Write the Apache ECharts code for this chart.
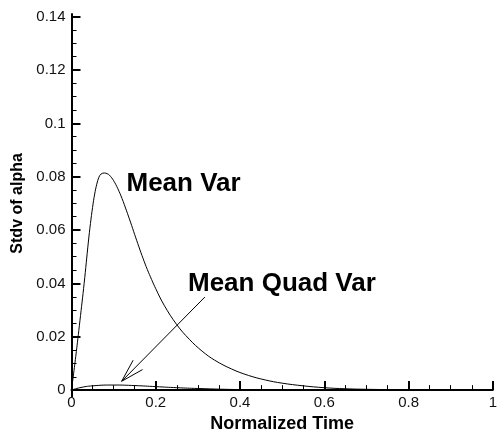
<!DOCTYPE html>
<html>
<head>
<meta charset="utf-8">
<script src="https://cdn.jsdelivr.net/npm/echarts@6/dist/echarts.min.js"></script>
<style>html,body{margin:0;padding:0;background:#fff}#c{width:500px;height:438px}</style>
</head>
<body>
<div id="c"></div>
<script>
// ---- data ----
const meanVarX = [0, 0.01, 0.02, 0.03, 0.04, 0.045, 0.05, 0.055, 0.06, 0.065, 0.07, 0.078, 0.085, 0.09, 0.10, 0.11, 0.12, 0.13, 0.14, 0.15, 0.16, 0.17, 0.18, 0.19, 0.20, 0.22, 0.25, 0.28, 0.31, 0.34, 0.38, 0.42, 0.46, 0.50, 0.55, 0.60, 0.65, 0.70, 0.80, 0.90, 1.0];
const meanVarY = [0, 0.0125, 0.026, 0.040, 0.0555, 0.0625, 0.0685, 0.0735, 0.0772, 0.0798, 0.0810, 0.0814, 0.0811, 0.0806, 0.0785, 0.0755, 0.0718, 0.0675, 0.0630, 0.0583, 0.0537, 0.0493, 0.0452, 0.0415, 0.0380, 0.0318, 0.0245, 0.0190, 0.0146, 0.0112, 0.0079, 0.0055, 0.0038, 0.0026, 0.0016, 0.0009, 0.0005, 0.0003, 0.0001, 0.0, 0.0];
const quadVarX = [0, 0.02, 0.05, 0.10, 0.15, 0.20, 0.25, 0.30, 0.40, 0.50, 0.60, 0.80, 1.0];
const quadVarY = [0, 0.0009, 0.0016, 0.0019, 0.0017, 0.0013, 0.0009, 0.0006, 0.0002, 0.0001, 0, 0, 0];
const arrowFrom = [0.3166, 0.0349];
const arrowTo = [0.119, 0.0033];
const xTickInterval = 0.2;
const yTickInterval = 0.02;
const yTickMax = 0.14;   // last labelled tick
const yAxisTop = 0.141;  // where the axis line ends
const labelMeanVar = 'Mean Var';
const labelQuadVar = 'Mean Quad Var';
const xTitle = 'Normalized Time';
const yTitle = 'Stdv of alpha';

const zip = (xs, ys) => xs.map((x, i) => [x, ys[i]]);

const chart = echarts.init(document.getElementById('c'), null, {renderer: 'canvas'});
const FONT = '"Liberation Sans", Arial, Helvetica, sans-serif';
const axisCommon = {
  axisLine: {show: true, onZero: false, lineStyle: {color: '#000', width: 2}},
  axisTick: {show: true, inside: true, length: 9, lineStyle: {color: '#000', width: 2}},
  minorTick: {show: true, splitNumber: 4, length: 5, lineStyle: {color: '#000', width: 1}},
  splitLine: {show: false},
  minorSplitLine: {show: false},
  axisLabel: {color: '#111', fontSize: 15, fontFamily: FONT},
  nameTextStyle: {color: '#000', fontWeight: 'bold', fontFamily: FONT}
};

// plot grid: y range 0..yTickMax; the axis-line grid extends slightly higher
const plotBottom = 41.5, plotTop = 16.7;
const lineTop = 14;

chart.setOption({
  animation: false,
  backgroundColor: '#fff',
  grid: [
    {left: 71.5, right: 1.5, top: plotTop, bottom: plotBottom, containLabel: false},
    {left: 71.5, right: 1.5, top: lineTop, bottom: plotBottom, containLabel: false}
  ],
  xAxis: [
    Object.assign({}, axisCommon, {
      gridIndex: 0, type: 'value', min: 0, max: 1, interval: xTickInterval,
      name: xTitle, nameLocation: 'middle', nameGap: 19,
      nameTextStyle: Object.assign({}, axisCommon.nameTextStyle, {fontSize: 18}),
      axisLabel: Object.assign({}, axisCommon.axisLabel, {margin: 5})
    }),
    {gridIndex: 1, type: 'value', min: 0, max: 1, show: false}
  ],
  yAxis: [
    Object.assign({}, axisCommon, {
      gridIndex: 0, type: 'value', min: 0, max: yTickMax, interval: yTickInterval,
      axisLine: {show: false},
      name: yTitle, nameLocation: 'middle', nameGap: 44,
      nameTextStyle: Object.assign({}, axisCommon.nameTextStyle, {fontSize: 16}),
      axisLabel: Object.assign({}, axisCommon.axisLabel, {margin: 6})
    }),
    {gridIndex: 1, type: 'value', min: 0, max: yAxisTop,
     axisLine: {show: true, onZero: false, lineStyle: {color: '#000', width: 2}},
     axisTick: {show: false}, axisLabel: {show: false}, splitLine: {show: false}}
  ],
  series: [
    {type: 'line', name: labelMeanVar, data: zip(meanVarX, meanVarY), showSymbol: false, smooth: 0.4,
     lineStyle: {color: '#000', width: 1}, clip: false},
    {type: 'line', name: labelQuadVar, data: zip(quadVarX, quadVarY), showSymbol: false, smooth: 0.5,
     lineStyle: {color: '#000', width: 1}, clip: false},
    {type: 'custom', data: [[arrowFrom[0], arrowFrom[1], arrowTo[0], arrowTo[1]]], silent: true,
     renderItem: function (params, api) {
       const p1 = api.coord([api.value(0), api.value(1)]);
       const p2 = api.coord([api.value(2), api.value(3)]);
       const ang = Math.atan2(p1[1] - p2[1], p1[0] - p2[0]);
       const L = 24, half = 0.28;
       const a1 = [p2[0] + L * Math.cos(ang + half), p2[1] + L * Math.sin(ang + half)];
       const a2 = [p2[0] + L * Math.cos(ang - half), p2[1] + L * Math.sin(ang - half)];
       const st = {stroke: '#000', lineWidth: 1, fill: null};
       return {type: 'group', children: [
         {type: 'line', shape: {x1: p1[0], y1: p1[1], x2: p2[0], y2: p2[1]}, style: st},
         {type: 'polyline', shape: {points: [a1, p2, a2]}, style: st}
       ]};
     }}
  ],
  graphic: [
    {type: 'text', left: 126.5, top: 170.5, style: {text: labelMeanVar, font: 'bold 26px ' + FONT, fill: '#000'}},
    {type: 'text', left: 188, top: 270.5, style: {text: labelQuadVar, font: 'bold 26px ' + FONT, fill: '#000'}}
  ]
});
</script>
</body>
</html>
